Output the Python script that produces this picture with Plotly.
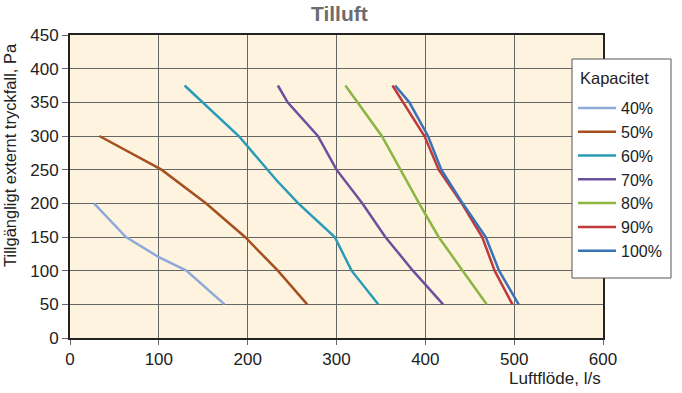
import plotly.graph_objects as go

labels = ["40%", "50%", "60%", "70%", "80%", "90%", "100%"]
colors = ["#8eaad8", "#a5501e", "#2b9bb8", "#6b519d", "#8cb542", "#bf3b3b", "#3a72b8"]

x40 = [27, 63, 100, 131, 174]
y40 = [200, 150, 120, 100, 50]
x50 = [33, 103, 153, 197, 234, 267]
y50 = [300, 250, 200, 150, 100, 50]
x60 = [129, 190, 232, 257, 298, 317, 347]
y60 = [375, 300, 235, 200, 150, 100, 50]
x70 = [234, 245, 279, 300, 329, 355, 386, 420]
y70 = [375, 350, 300, 250, 200, 150, 100, 50]
x80 = [310, 324, 351, 393, 415, 442, 469]
y80 = [375, 350, 300, 200, 150, 100, 50]
x90 = [363, 399, 415, 441, 464, 478, 498]
y90 = [375, 300, 250, 200, 150, 100, 50]
x100 = [366, 382, 403, 418, 442, 468, 483, 505]
y100 = [375, 350, 300, 250, 200, 150, 100, 50]

xs = [x40, x50, x60, x70, x80, x90, x100]
ys = [y40, y50, y60, y70, y80, y90, y100]

x_ticks = [0, 100, 200, 300, 400, 500, 600]
y_ticks = [0, 50, 100, 150, 200, 250, 300, 350, 400, 450]

FONT = "Liberation Sans, Arial, sans-serif"

# plot area in pixels: left 70, right 603, top 35, bottom 338
L, R, T, B = 70, 603, 35, 338
PW, PH = R - L, B - T


def px(xp):
    return (xp - L) / PW


def py(yp):
    return (B - yp) / PH


fig = go.Figure()
for lab, col, xv, yv in zip(labels, colors, xs, ys):
    fig.add_trace(go.Scatter(x=xv, y=yv, mode="lines", name=lab,
                             line=dict(color=col, width=2.5)))

fig.update_layout(
    width=682, height=393,
    margin=dict(l=L, r=682 - R, t=T, b=393 - B, autoexpand=False),
    paper_bgcolor="white",
    plot_bgcolor="#fdf3df",
    font=dict(family=FONT, size=17, color="#222"),
    showlegend=True,
    legend=dict(
        font=dict(size=16, family=FONT, color="#222"),
        x=px(573), y=py(91), xanchor="left", yanchor="top",
        bgcolor="rgba(0,0,0,0)", borderwidth=0,
        itemwidth=38,
    ),
    shapes=[
        dict(type="rect", xref="paper", yref="paper", layer="above",
             x0=px(572), x1=px(671), y0=py(59), y1=py(278),
             fillcolor="white", line=dict(color="#555", width=1)),
    ],
    annotations=[
        dict(text="<b>Tilluft</b>", x=px(339), y=py(13), xref="paper", yref="paper",
             yanchor="middle", showarrow=False,
             font=dict(size=21, color="#6d6d6d", family=FONT)),
        dict(text="Kapacitet", x=px(578), y=py(78), xref="paper", yref="paper",
             xanchor="left", yanchor="middle", showarrow=False,
             font=dict(size=16.5, color="#222", family=FONT)),
        dict(text="Luftflöde, l/s", x=1, xref="paper", xanchor="right",
             y=py(378), yref="paper", yanchor="middle",
             showarrow=False, font=dict(size=17, family=FONT, color="#222")),
        dict(text="Tillgängligt externt tryckfall, Pa", textangle=-90,
             x=px(10), xref="paper", xanchor="center",
             y=py(155), yref="paper", yanchor="middle",
             showarrow=False, font=dict(size=16.5, family=FONT, color="#222")),
    ],
)

fig.update_xaxes(range=[0, 600], tickvals=x_ticks, showgrid=True, gridcolor="#666", gridwidth=1,
                 zeroline=False, showline=True, linecolor="#222", linewidth=2, mirror=True,
                 ticks="outside", ticklen=5, tickcolor="#666", tickfont=dict(size=17),
                 automargin=False)
fig.update_yaxes(range=[0, 450], tickvals=y_ticks, showgrid=True, gridcolor="#666", gridwidth=1,
                 zeroline=False, showline=True, linecolor="#222", linewidth=2, mirror=True,
                 ticks="outside", ticklen=6, tickcolor="#666", tickfont=dict(size=17),
                 automargin=False)

fig.write_html("out.html", config={"displayModeBar": False},
               post_script="document.body.style.margin='0';document.body.style.overflow='hidden';")
